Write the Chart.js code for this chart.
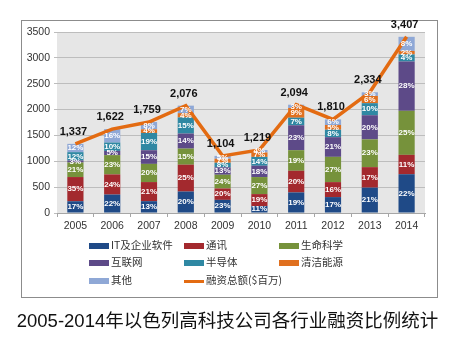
<!DOCTYPE html>
<html>
<head>
<meta charset="utf-8">
<script src="https://cdn.jsdelivr.net/npm/chart.js@4"></script>
<style>
  body { margin: 0; background: #fff; width: 461px; height: 342px; overflow: hidden; position: relative; }
  #frame { position: absolute; left: 21px; top: 20px; width: 415px; height: 276px; border: 1px solid #8c8c8c; background: #fff; }
  #chart { position: absolute; left: 0; top: 0; }
  #legend { position: absolute; left: 0; top: 0; font-family: "Noto Sans CJK SC", "Liberation Sans", sans-serif; font-size: 10.5px; color: #333; }
  .item { position: absolute; height: 14px; line-height: 14px; white-space: nowrap; }
  .item span.box { position: absolute; left: 0; width: 20px; }
  .item span.txt { position: absolute; left: 22px; top: 0; }
  #title { position: absolute; left: 0; width: 455px; top: 306px; text-align: center; font-family: "Liberation Sans", "Noto Sans CJK SC", sans-serif; font-size: 18.5px; color: #111; }
</style>
</head>
<body>
<div id="frame"></div>
<canvas id="chart" width="461" height="342"></canvas>
<div id="legend"></div>
<div id="title">2005-2014年以色列高科技公司各行业融资比例统计</div>
<script>
// Years and totals (funding, $ millions)
const years = ['2005', '2006', '2007', '2008', '2009', '2010', '2011', '2012', '2013', '2014'];
const totals = [1337, 1622, 1759, 2076, 1104, 1219, 2094, 1810, 2334, 3407];

// Share of each sector per year (%)
const pctIT = [17, 22, 13, 20, 23, 11, 19, 17, 21, 22];
const pctTelecom = [35, 24, 21, 25, 20, 19, 20, 16, 17, 11];
const pctLife = [21, 23, 20, 15, 24, 27, 19, 27, 23, 25];
const pctInternet = [3, 5, 15, 14, 13, 18, 23, 21, 20, 28];
const pctSemi = [12, 10, 19, 15, 8, 14, 7, 8, 10, 4];
const pctClean = [0, 0, 4, 4, 7, 7, 9, 5, 6, 2];
const pctOther = [12, 16, 8, 7, 5, 4, 3, 6, 3, 8];

const sectorNames = ['IT及企业软件', '通讯', '生命科学', '互联网', '半导体', '清洁能源', '其他'];
const sectorPcts = [pctIT, pctTelecom, pctLife, pctInternet, pctSemi, pctClean, pctOther];
const sectorColors = ['#1f4a87', '#a3292e', '#76923b', '#5d4a88', '#2f88a3', '#e0701f', '#8fa8d6'];
const lineName = '融资总额($百万)';
const lineColor = '#e36b12';

const yTicks = [0, 500, 1000, 1500, 2000, 2500, 3000, 3500];

const datasets = sectorNames.map((name, i) => ({
    type: 'bar',
    label: name,
    data: sectorPcts[i].map((p, j) => totals[j] * p / 100),
    pct: sectorPcts[i],
    backgroundColor: sectorColors[i],
    stack: 'sectors',
    order: 1,
    barPercentage: 0.44,
    categoryPercentage: 1
}));
datasets.push({
    type: 'line',
    label: lineName,
    data: totals,
    borderColor: lineColor,
    borderWidth: 3.5,
    pointRadius: 0,
    tension: 0,
    stack: 'line',
    order: 0
});

// gray plot background
const plotBg = {
    id: 'plotBg',
    beforeDraw(chart) {
        const a = chart.chartArea, ctx = chart.ctx;
        ctx.save();
        ctx.fillStyle = '#e6e6e6';
        ctx.fillRect(a.left, a.top, a.right - a.left, a.bottom - a.top);
        ctx.restore();
    }
};

// percent labels in segments and totals above the line
const labels = {
    id: 'labels',
    afterDraw(chart) {
        const ctx = chart.ctx;
        ctx.save();
        ctx.textAlign = 'center';
        ctx.textBaseline = 'middle';
        ctx.font = 'bold 8px "Liberation Sans", sans-serif';
        ctx.fillStyle = '#ffffff';
        chart.data.datasets.forEach((ds, di) => {
            if (ds.type !== 'bar') return;
            chart.getDatasetMeta(di).data.forEach((el, j) => {
                if (!ds.pct[j]) return;
                ctx.fillText(ds.pct[j] + '%', el.x, (el.y + el.base) / 2);
            });
        });
        const lineMeta = chart.getDatasetMeta(chart.data.datasets.length - 1);
        ctx.font = 'bold 11px "Liberation Sans", sans-serif';
        ctx.fillStyle = '#111';
        lineMeta.data.forEach((pt, j) => {
            ctx.fillText(totals[j].toLocaleString('en-US'), pt.x - 2, pt.y - 12);
        });
        ctx.restore();
    }
};

new Chart(document.getElementById('chart'), {
    data: { labels: years, datasets: datasets },
    options: {
        responsive: false,
        devicePixelRatio: 1,
        animation: false,
        layout: { padding: { left: 21, right: 36, top: 32, bottom: 107 } },
        plugins: { legend: { display: false }, tooltip: { enabled: false } },
        scales: {
            x: {
                stacked: true,
                offset: true,
                grid: { offset: true, drawOnChartArea: false, tickLength: 4, color: '#a6a6a6' },
                border: { color: '#a6a6a6' },
                ticks: { color: '#333', font: { size: 10.5, family: '"Liberation Sans", sans-serif' }, padding: 3, maxRotation: 0 },
                afterFit(s) { s.height = 22; }
            },
            y: {
                stacked: true,
                min: 0,
                max: 3500,
                afterBuildTicks(s) { s.ticks = yTicks.map(v => ({ value: v })); },
                grid: { color: '#bdbdbd', tickLength: 3 },
                border: { display: false },
                ticks: { color: '#333', font: { size: 10.5, family: '"Liberation Sans", sans-serif' }, padding: 4, callback: v => String(v) },
                afterFit(s) { s.width = 36; }
            }
        }
    },
    plugins: [plotBg, labels]
});

// legend (3 columns)
const legend = document.getElementById('legend');
const colX = [89, 184, 279];
const rowY = [238, 255, 273];
const items = sectorNames.map((n, i) => ({ name: n, color: sectorColors[i], line: false }));
items.push({ name: lineName, color: lineColor, line: true });
items.forEach((it, idx) => {
    const d = document.createElement('div');
    d.className = 'item';
    d.style.left = colX[idx % 3] + 'px';
    d.style.top = rowY[Math.floor(idx / 3)] + 'px';
    const h = it.line ? 3 : 6;
    d.innerHTML = '<span class="box" style="top:' + (7 - h / 2 + 1) + 'px;height:' + h + 'px;background:' + it.color + '"></span>' +
        '<span class="txt">' + it.name + '</span>';
    legend.appendChild(d);
});
</script>
</body>
</html>
